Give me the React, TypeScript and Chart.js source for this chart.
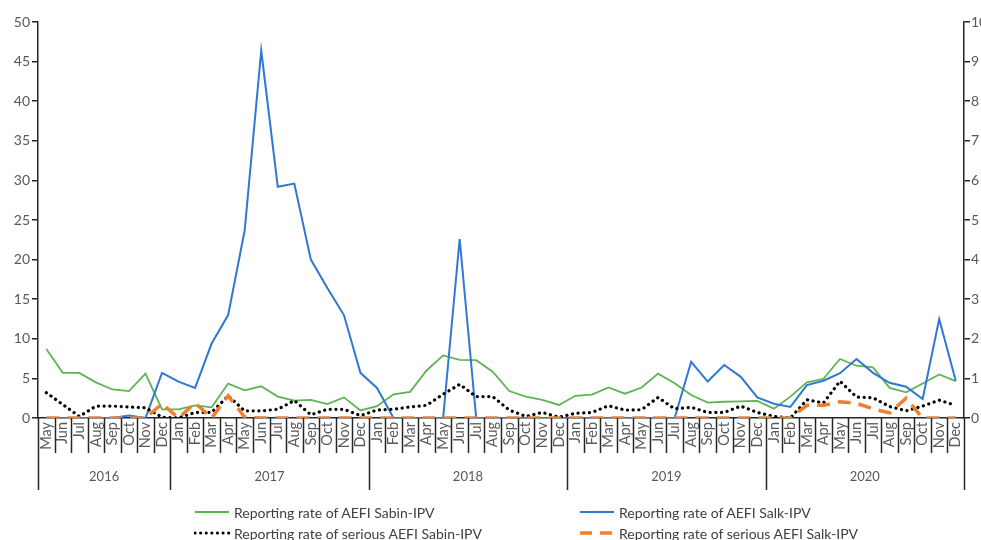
import React, { useEffect, useRef } from 'react';
import { Chart, registerables } from 'chart.js';

Chart.register(...registerables);

const FONT = 'Lato, "Liberation Sans", Arial, sans-serif';

const monthLabels = [
  'May', 'Jun', 'Jul', 'Aug', 'Sep', 'Oct', 'Nov', 'Dec',
  'Jan', 'Feb', 'Mar', 'Apr', 'May', 'Jun', 'Jul', 'Aug', 'Sep', 'Oct', 'Nov', 'Dec',
  'Jan', 'Feb', 'Mar', 'Apr', 'May', 'Jun', 'Jul', 'Aug', 'Sep', 'Oct', 'Nov', 'Dec',
  'Jan', 'Feb', 'Mar', 'Apr', 'May', 'Jun', 'Jul', 'Aug', 'Sep', 'Oct', 'Nov', 'Dec',
  'Jan', 'Feb', 'Mar', 'Apr', 'May', 'Jun', 'Jul', 'Aug', 'Sep', 'Oct', 'Nov', 'Dec',
];

const yearLabels = ['2016', '2017', '2018', '2019', '2020'];
const yearStartIndex = [0, 8, 20, 32, 44];

// Left axis (0-50)
const sabinRate = [
  8.7, 5.7, 5.7, 4.5, 3.6, 3.4, 5.6, 1.1,
  1.1, 1.6, 1.35, 4.35, 3.5, 4.0, 2.7, 2.2, 2.3, 1.75, 2.6, 0.95,
  1.5, 3.0, 3.3, 6.0, 7.9, 7.35, 7.3, 5.85, 3.4, 2.7, 2.3, 1.65,
  2.8, 2.95, 3.85, 3.07, 3.85, 5.6, 4.4, 2.9, 1.95, 2.05, 2.1, 2.15,
  1.18, 2.7, 4.5, 4.95, 7.45, 6.6, 6.4, 3.8, 3.25, 4.35, 5.5, 4.65,
];

const salkRate = [
  0, 0, 0, 0, 0, 0.3, 0, 5.7,
  4.6, 3.8, 9.4, 13.0, 23.7, 46.4, 29.2, 29.6, 20.0, 16.4, 13.0, 5.7,
  3.8, 0, 0, 0, 0, 22.6, 0, 0, 0, 0, 0, 0,
  0, 0, 0, 0, 0, 0, 0, 7.1, 4.6, 6.7, 5.2, 2.6,
  1.8, 1.4, 4.15, 4.7, 5.65, 7.45, 5.7, 4.45, 3.95, 2.4, 12.5, 4.7,
];

// Right axis (0-10)
const seriousSabinRate = [
  0.64, 0.34, 0.04, 0.30, 0.30, 0.28, 0.26, 0.02,
  0, 0.14, 0.14, 0.56, 0.18, 0.18, 0.22, 0.44, 0.08, 0.22, 0.22, 0.06,
  0.20, 0.22, 0.28, 0.32, 0.60, 0.85, 0.54, 0.54, 0.20, 0.04, 0.14, 0.02,
  0.12, 0.14, 0.31, 0.20, 0.21, 0.52, 0.23, 0.27, 0.14, 0.14, 0.30, 0.14,
  0.04, 0, 0.46, 0.38, 0.93, 0.53, 0.51, 0.29, 0.18, 0.30, 0.45, 0.32,
];

const seriousSalkRate = [
  0, 0, 0, 0, 0, 0, 0, 0.36,
  0, 0.38, 0, 0.56, 0.02, 0, 0, 0, 0, 0, 0, 0,
  0, 0, 0, 0, 0, 0, 0, 0, 0, 0, 0, 0,
  0, 0, 0, 0, 0, 0, 0, 0, 0, 0, 0, 0,
  0, 0, 0.32, 0.32, 0.41, 0.37, 0.23, 0.13, 0.5, 0, 0, 0,
];

const leftTicks = [0, 5, 10, 15, 20, 25, 30, 35, 40, 45, 50];
const rightTicks = [0, 1, 2, 3, 4, 5, 6, 7, 8, 9, 10];

const GREEN = '#5DB551';
const BLUE = '#2F78D4';
const BLACK = '#000000';
const ORANGE = '#F07E2E';
const AXIS = '#262626';
const TEXT = '#595959';

const legendItems = [
  { label: 'Reporting rate of AEFI Sabin-IPV', color: GREEN, dash: '', width: 2, cap: 'butt' },
  { label: 'Reporting rate of AEFI Salk-IPV', color: BLUE, dash: '', width: 2, cap: 'butt' },
  { label: 'Reporting rate of serious AEFI Sabin-IPV', color: BLACK, dash: '0.1 5.5', width: 3, cap: 'round' },
  { label: 'Reporting rate of serious AEFI Salk-IPV', color: ORANGE, dash: '12 8', width: 3.5, cap: 'butt' },
];

const groupPlugin = {
  id: 'groupAxis',
  afterDraw(chart: any) {
    const xs = chart.scales.x;
    const area = chart.chartArea;
    const ctx = chart.ctx;
    const n = monthLabels.length;
    const step = xs.getPixelForValue(1) - xs.getPixelForValue(0);
    const boundary = (i: number) =>
      i < n ? xs.getPixelForValue(i) - step / 2 : xs.getPixelForValue(n - 1) + step / 2;
    ctx.save();
    ctx.strokeStyle = AXIS;
    ctx.lineWidth = 1.5;
    for (let i = 0; i <= n; i++) {
      const isYear = yearStartIndex.includes(i) || i === n;
      const x = Math.round(boundary(i)) + 0.5;
      ctx.beginPath();
      ctx.moveTo(x, area.bottom);
      ctx.lineTo(x, area.bottom + (isYear ? 72 : 35));
      ctx.stroke();
    }
    ctx.fillStyle = TEXT;
    ctx.font = `13px ${FONT}`;
    ctx.textAlign = 'center';
    ctx.textBaseline = 'middle';
    yearLabels.forEach((yl, k) => {
      const s = yearStartIndex[k];
      const e = k + 1 < yearStartIndex.length ? yearStartIndex[k + 1] : n;
      const cx = (boundary(s) + boundary(e)) / 2;
      ctx.fillText(yl, cx, area.bottom + 59);
    });
    ctx.restore();
  },
};

export default function App() {
  const ref = useRef<HTMLCanvasElement | null>(null);

  useEffect(() => {
    if (!ref.current) return;
    const chart = new Chart(ref.current, {
      type: 'line',
      data: {
        labels: monthLabels,
        datasets: [
          {
            label: legendItems[0].label,
            data: sabinRate,
            borderColor: GREEN,
            borderWidth: 1.8,
            pointRadius: 0,
            tension: 0,
            yAxisID: 'y',
            order: 4,
          },
          {
            label: legendItems[1].label,
            data: salkRate,
            borderColor: BLUE,
            borderWidth: 2,
            pointRadius: 0,
            tension: 0,
            yAxisID: 'y',
            order: 3,
          },
          {
            label: legendItems[2].label,
            data: seriousSabinRate,
            borderColor: BLACK,
            borderWidth: 3.2,
            borderDash: [0.1, 5.6],
            borderCapStyle: 'round',
            pointRadius: 0,
            tension: 0,
            yAxisID: 'y1',
            order: 2,
          },
          {
            label: legendItems[3].label,
            data: seriousSalkRate,
            borderColor: ORANGE,
            borderWidth: 3.5,
            borderDash: [13, 8],
            pointRadius: 0,
            tension: 0,
            yAxisID: 'y1',
            order: 1,
          },
        ],
      },
      options: {
        animation: false,
        responsive: false,
        maintainAspectRatio: false,
        layout: { padding: { top: 22, bottom: 50, left: 0, right: 0 } },
        plugins: {
          legend: { display: false },
          tooltip: { enabled: false },
        },
        scales: {
          x: {
            type: 'category',
            offset: true,
            grid: { display: false, drawTicks: false },
            border: { display: true, color: AXIS, width: 1.5 },
            ticks: {
              autoSkip: false,
              maxRotation: 90,
              minRotation: 90,
              padding: 4,
              color: TEXT,
              font: { family: FONT, size: 14.5 },
            },
            afterFit: (s: any) => {
              s.height = 72;
            },
          },
          y: {
            position: 'left',
            min: 0,
            max: 50,
            afterBuildTicks: (s: any) => {
              s.ticks = leftTicks.map((v) => ({ value: v }));
            },
            grid: { drawOnChartArea: false, drawTicks: true, tickLength: 6, color: AXIS, tickColor: AXIS, lineWidth: 1.5 },
            border: { display: true, color: AXIS, width: 1.5 },
            ticks: { padding: 2, color: TEXT, font: { family: FONT, size: 14 } },
            afterFit: (s: any) => {
              s.width = 38;
            },
          },
          y1: {
            position: 'right',
            min: 0,
            max: 10,
            afterBuildTicks: (s: any) => {
              s.ticks = rightTicks.map((v) => ({ value: v }));
            },
            grid: { drawOnChartArea: false, drawTicks: true, tickLength: 6, color: AXIS, tickColor: AXIS, lineWidth: 1.5 },
            border: { display: true, color: AXIS, width: 1.5 },
            ticks: { padding: 1, color: TEXT, font: { family: FONT, size: 14 } },
            afterFit: (s: any) => {
              s.width = 17;
            },
          },
        },
      },
      plugins: [groupPlugin],
    } as any);
    return () => chart.destroy();
  }, []);

  const legendPos = [
    { left: 194, top: 512 },
    { left: 579, top: 512 },
    { left: 194, top: 533 },
    { left: 579, top: 533 },
  ];

  return (
    <div style={{ position: 'absolute', left: 0, top: 0, width: 981, height: 540, overflow: 'hidden', background: '#fff' }}>
      <canvas ref={ref} width={981} height={540} style={{ position: 'absolute', left: 0, top: 0, width: 981, height: 540 }} />
      {legendItems.map((it, i) => (
        <div
          key={i}
          style={{
            position: 'absolute',
            left: legendPos[i].left,
            top: legendPos[i].top - 10,
            height: 20,
            display: 'flex',
            alignItems: 'center',
            fontFamily: FONT,
            fontSize: 14,
            color: '#404040',
            whiteSpace: 'nowrap',
          }}
        >
          <svg width={36} height={20} style={{ marginRight: 4 }}>
            <line
              x1={1}
              y1={10}
              x2={35}
              y2={10}
              stroke={it.color}
              strokeWidth={it.width}
              strokeDasharray={it.dash || undefined}
              strokeLinecap={it.cap as any}
            />
          </svg>
          <span>{it.label}</span>
        </div>
      ))}
    </div>
  );
}
